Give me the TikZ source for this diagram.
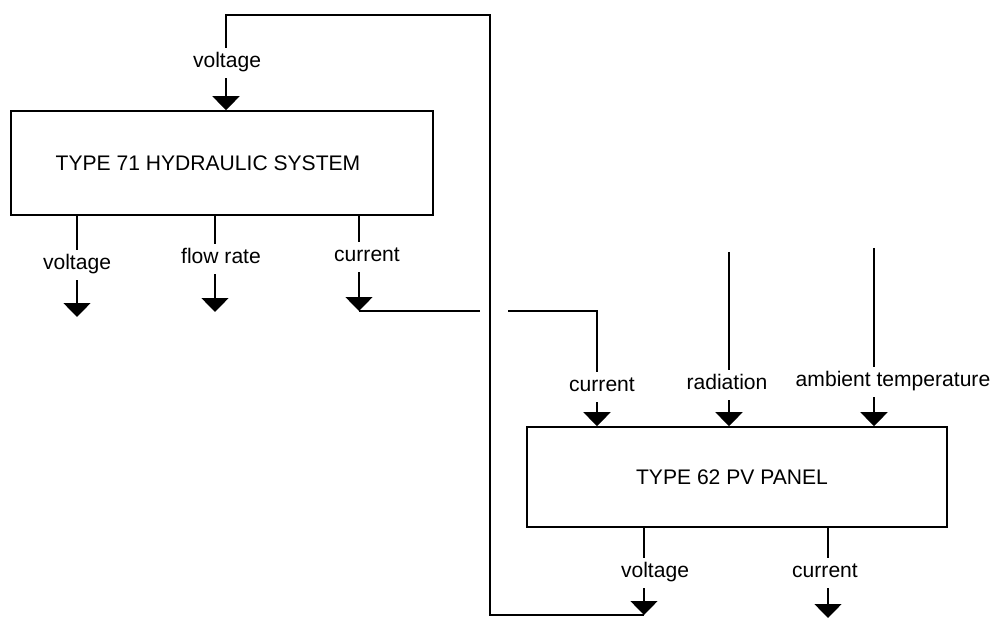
\documentclass[tikz,border=0pt]{standalone}
\usepackage{fontspec}
\setmainfont{Liberation Sans}
\usetikzlibrary{arrows.meta}
\begin{document}
\begin{tikzpicture}[x=0.02cm,y=-0.02cm,
  line width=0.9pt,
  blk/.style={draw, rectangle, inner sep=0pt},
  lab/.style={font=\fontsize{12}{14}\selectfont, inner sep=3.5pt, text height=0.72em, text depth=0.21em},
  ttl/.style={font=\fontsize{12}{14}\selectfont, inner sep=0pt},
  arr/.style={-{Triangle[width=0.54cm,length=0.28cm]}}]
\useasboundingbox (0,0) rectangle (1000,621);
% blocks
\node[blk, minimum width=8.44cm, minimum height=2.08cm] (hyd) at (222,163) {};
\node[ttl] (hydtxt) at (208,163) {TYPE 71 HYDRAULIC SYSTEM};
\node[blk, minimum width=8.4cm, minimum height=2.0cm] (pv) at (737,477) {};
\node[ttl] (pvtxt) at (732,477) {TYPE 62 PV PANEL};
% labels
\node[lab] (hin) at (227,63) {voltage};
\node[lab] (hvl) at (77,265) {voltage};
\node[lab] (hfl) at (221,259) {flow rate};
\node[lab] (hcl) at (367,257) {current};
\node[lab] (pcl) at (602,387) {current};
\node[lab] (prl) at (727,385) {radiation};
\node[lab] (pal) at (893,382) {ambient temperature};
\node[lab] (pvl) at (655,573) {voltage};
\node[lab] (pol) at (825,573) {current};
% coordinates
\coordinate (hinx) at (226,0);
\coordinate (hvt) at (77,317);
\coordinate (hft) at (215,312);
\coordinate (hct) at (359,311);
\coordinate (hopL) at (480,311);
\coordinate (hopR) at (508,311);
\coordinate (pcx) at (597,311);
\coordinate (prs) at (729,252);
\coordinate (pas) at (874,248);
\coordinate (pvt) at (644,615);
\coordinate (pot) at (828,618);
\coordinate (fb1) at (490,615);
\coordinate (fb2) at (490,15);
\coordinate (fb3) at (226,15);
% hydraulic input
\draw[arr] (hinx |- hin.south) -- (hinx |- hyd.north);
% hydraulic outputs
\draw (hvt |- hyd.south) -- (hvt |- hvl.north);
\draw[arr] (hvt |- hvl.south) -- (hvt);
\draw (hft |- hyd.south) -- (hft |- hfl.north);
\draw[arr] (hft |- hfl.south) -- (hft);
\draw (hct |- hyd.south) -- (hct |- hcl.north);
\draw[arr] (hct |- hcl.south) -- (hct);
% current connector with gap
\draw (hct) -- (hopL);
\draw (hopR) -- (pcx) -- (pcx |- pcl.north);
\draw[arr] (pcx |- pcl.south) -- (pcx |- pv.north);
% radiation / ambient
\draw (prs) -- (prs |- prl.north);
\draw[arr] (prs |- prl.south) -- (prs |- pv.north);
\draw (pas) -- (pas |- pal.north);
\draw[arr] (pas |- pal.south) -- (pas |- pv.north);
% PV outputs
\draw (pvt |- pv.south) -- (pvt |- pvl.north);
\draw[arr] (pvt |- pvl.south) -- (pvt);
\draw (pot |- pv.south) -- (pot |- pol.north);
\draw[arr] (pot |- pol.south) -- (pot);
% feedback loop
\draw (pvt) -- (fb1) -- (fb2) -- (fb3) -- (fb3 |- hin.north);
\end{tikzpicture}
\end{document}
